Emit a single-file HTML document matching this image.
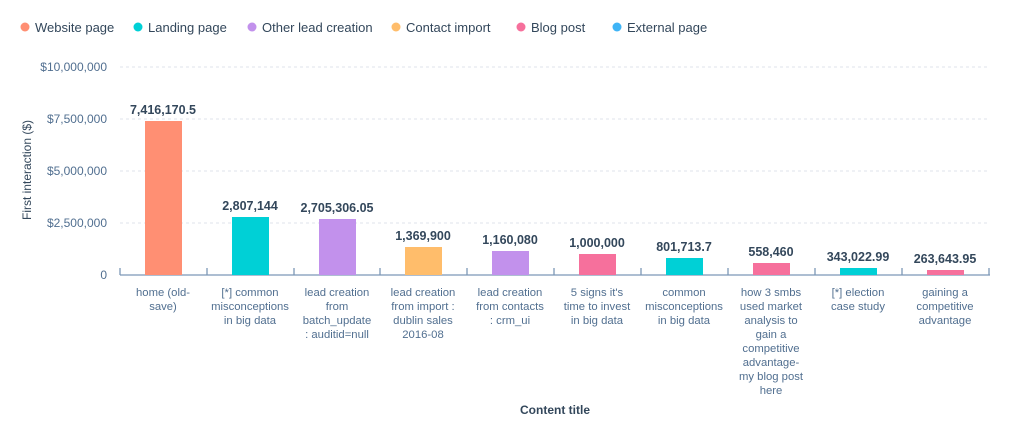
<!DOCTYPE html>
<html><head><style>
body{margin:0;background:#fff;}
svg text{font-family:"Liberation Sans",sans-serif;}
</style></head><body>
<svg width="1024" height="433" xmlns="http://www.w3.org/2000/svg">
<g font-size="13" fill="#33475b">
<circle cx="25" cy="27" r="4.5" fill="#ff8f73"/><text x="35" y="32">Website page</text>
<circle cx="138" cy="27" r="4.5" fill="#00d0d6"/><text x="148" y="32">Landing page</text>
<circle cx="252" cy="27" r="4.5" fill="#c291ec"/><text x="262" y="32">Other lead creation</text>
<circle cx="396" cy="27" r="4.5" fill="#ffbd6b"/><text x="406" y="32">Contact import</text>
<circle cx="521" cy="27" r="4.5" fill="#f6709c"/><text x="531" y="32">Blog post</text>
<circle cx="617" cy="27" r="4.5" fill="#3fb4f6"/><text x="627" y="32">External page</text>
</g>
<g stroke="#dfe3eb" stroke-dasharray="3,3">
<line x1="120" y1="67" x2="990" y2="67"/><line x1="120" y1="119" x2="990" y2="119"/>
<line x1="120" y1="171" x2="990" y2="171"/><line x1="120" y1="223" x2="990" y2="223"/>
</g>
<g font-size="12" fill="#516f90" text-anchor="end">
<text x="107" y="71">$10,000,000</text><text x="107" y="123">$7,500,000</text>
<text x="107" y="175">$5,000,000</text><text x="107" y="227">$2,500,000</text><text x="107" y="279">0</text>
</g>
<text transform="translate(31,170) rotate(-90)" font-size="12" fill="#33475b" text-anchor="middle">First interaction ($)</text>
<line x1="120" y1="275" x2="990" y2="275" stroke="#7c98b6" stroke-width="1.3"/>
<g stroke="#7c98b6" stroke-width="1.3">
<line x1="120" y1="268" x2="120" y2="275"/><line x1="207" y1="268" x2="207" y2="275"/><line x1="294" y1="268" x2="294" y2="275"/><line x1="380" y1="268" x2="380" y2="275"/><line x1="467" y1="268" x2="467" y2="275"/><line x1="554" y1="268" x2="554" y2="275"/><line x1="641" y1="268" x2="641" y2="275"/><line x1="728" y1="268" x2="728" y2="275"/><line x1="815" y1="268" x2="815" y2="275"/><line x1="902" y1="268" x2="902" y2="275"/><line x1="989" y1="268" x2="989" y2="275"/>
</g>
<g>
<rect x="145" y="121" width="37" height="154" fill="#ff8f73"/>
<rect x="232" y="217" width="37" height="58" fill="#00d0d6"/>
<rect x="319" y="219" width="37" height="56" fill="#c291ec"/>
<rect x="405" y="247" width="37" height="28" fill="#ffbd6b"/>
<rect x="492" y="251" width="37" height="24" fill="#c291ec"/>
<rect x="579" y="254" width="37" height="21" fill="#f6709c"/>
<rect x="666" y="258" width="37" height="17" fill="#00d0d6"/>
<rect x="753" y="263" width="37" height="12" fill="#f6709c"/>
<rect x="840" y="268" width="37" height="7" fill="#00d0d6"/>
<rect x="927" y="270" width="37" height="5" fill="#f6709c"/>
</g>
<g font-size="12.5" font-weight="bold" fill="#33475b" text-anchor="middle">
<text x="163" y="114">7,416,170.5</text>
<text x="250" y="210">2,807,144</text>
<text x="337" y="212">2,705,306.05</text>
<text x="423" y="240">1,369,900</text>
<text x="510" y="244">1,160,080</text>
<text x="597" y="247">1,000,000</text>
<text x="684" y="251">801,713.7</text>
<text x="771" y="256">558,460</text>
<text x="858" y="261">343,022.99</text>
<text x="945" y="263">263,643.95</text>
</g>
<g font-size="11.3" fill="#516f90" text-anchor="middle">
<text x="163" y="296">home (old-</text><text x="163" y="310">save)</text>
<text x="250" y="296">[*] common</text><text x="250" y="310">misconceptions</text><text x="250" y="324">in big data</text>
<text x="337" y="296">lead creation</text><text x="337" y="310">from</text><text x="337" y="324">batch_update</text><text x="337" y="338">: auditid=null</text>
<text x="423" y="296">lead creation</text><text x="423" y="310">from import :</text><text x="423" y="324">dublin sales</text><text x="423" y="338">2016-08</text>
<text x="510" y="296">lead creation</text><text x="510" y="310">from contacts</text><text x="510" y="324">: crm_ui</text>
<text x="597" y="296">5 signs it's</text><text x="597" y="310">time to invest</text><text x="597" y="324">in big data</text>
<text x="684" y="296">common</text><text x="684" y="310">misconceptions</text><text x="684" y="324">in big data</text>
<text x="771" y="296">how 3 smbs</text><text x="771" y="310">used market</text><text x="771" y="324">analysis to</text><text x="771" y="338">gain a</text><text x="771" y="352">competitive</text><text x="771" y="366">advantage-</text><text x="771" y="380">my blog post</text><text x="771" y="394">here</text>
<text x="858" y="296">[*] election</text><text x="858" y="310">case study</text>
<text x="945" y="296">gaining a</text><text x="945" y="310">competitive</text><text x="945" y="324">advantage</text>
</g>
<text x="555" y="414" font-size="12" font-weight="bold" fill="#33475b" text-anchor="middle">Content title</text>
</svg>
</body></html>
